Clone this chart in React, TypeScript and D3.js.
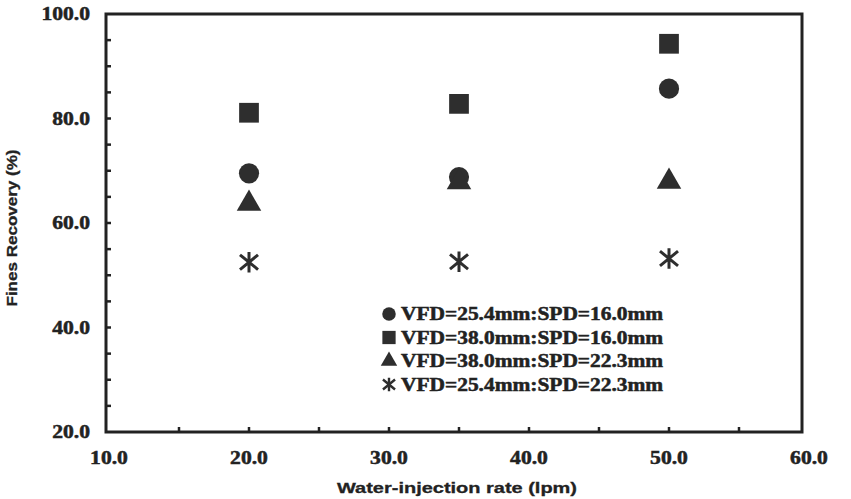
import React from 'react';
import * as d3 from 'd3';

// Water-injection rate (lpm) at which each condition was measured
const injectionRates = [20, 35, 50];

// Fines recovery (%) for each vortex-finder / spigot diameter combination
const recoveryVfd254Spd160 = [69.5, 68.8, 85.7];
const recoveryVfd380Spd160 = [81.1, 82.8, 94.3];
const recoveryVfd380Spd223 = [63.7, 67.8, 67.9];
const recoveryVfd254Spd223 = [52.5, 52.6, 53.2];

const seriesLabels = [
  'VFD=25.4mm:SPD=16.0mm',
  'VFD=38.0mm:SPD=16.0mm',
  'VFD=38.0mm:SPD=22.3mm',
  'VFD=25.4mm:SPD=22.3mm',
];

const xTickLabels = [10, 20, 30, 40, 50, 60];
const yTickLabels = [20, 40, 60, 80, 100];

const xTitle = 'Water-injection rate (lpm)';
const yTitle = 'Fines Recovery (%)';

const W = 851;
const H = 499;
const ink = '#222';
const markFill = '#2e2e2e';

// six-armed star: a vertical bar crossed by two diagonals
const symbolStar = {
  draw(ctx: any, size: number) {
    const r = Math.sqrt(size) / 2;
    const dx = r * 0.88;
    const dy = r * 0.72;
    ctx.moveTo(0, -r);
    ctx.lineTo(0, r);
    ctx.moveTo(-dx, -dy);
    ctx.lineTo(dx, dy);
    ctx.moveTo(-dx, dy);
    ctx.lineTo(dx, -dy);
  },
};

type Kind = 'circle' | 'square' | 'triangle' | 'star';

const seriesKinds: Kind[] = ['circle', 'square', 'triangle', 'star'];
const seriesValues = [
  recoveryVfd254Spd160,
  recoveryVfd380Spd160,
  recoveryVfd380Spd223,
  recoveryVfd254Spd223,
];

function markPath(kind: Kind, scale: number) {
  if (kind === 'circle') return d3.symbol(d3.symbolCircle, 320 * scale)()!;
  if (kind === 'square') return d3.symbol(d3.symbolSquare, 390 * scale)()!;
  if (kind === 'triangle') return d3.symbol(d3.symbolTriangle, 260 * scale)()!;
  return d3.symbol(symbolStar as any, 420 * scale)()!;
}

function Mark({ kind, x, y, scale = 1 }: { kind: Kind; x: number; y: number; scale?: number }) {
  const d = markPath(kind, scale);
  if (kind === 'star') {
    return (
      <path
        d={d}
        transform={`translate(${x},${y})`}
        fill="none"
        stroke={markFill}
        strokeWidth={scale < 1 ? 2.4 : 3}
      />
    );
  }
  return <path d={d} transform={`translate(${x},${y})`} fill={markFill} />;
}

export default function App() {
  // plot frame
  const left = 106;
  const right = 802;
  const top = 14;
  const bottom = 432;

  const x = d3.scaleLinear().domain([10, 60]).range([109, 809]);
  const y = d3.scaleLinear().domain([20, 100]).range([bottom, top]);

  const xMinor = x.ticks(10).filter((v) => v > 10 && v < 60);
  const yMinor = y.ticks(16).filter((v) => v > 20 && v < 100);

  const serif = '"Liberation Serif", "Times New Roman", serif';
  const sans = '"Liberation Sans", Arial, sans-serif';

  const legendX = 389;
  const legendY0 = 314;
  const legendStep = 23.5;

  const labelStyle = {
    fontFamily: serif,
    fontWeight: 'bold' as const,
    fontSize: 18,
    fill: ink,
    stroke: ink,
    strokeWidth: 0.5,
  };

  return (
    <svg
      width={W}
      height={H}
      viewBox={`0 0 ${W} ${H}`}
      style={{ position: 'absolute', left: 0, top: 0, background: '#fff' }}
    >
      <rect x={0} y={0} width={W} height={H} fill="#fff" />

      {/* frame */}
      <rect
        x={left}
        y={top}
        width={right - left}
        height={bottom - top}
        fill="none"
        stroke={ink}
        strokeWidth={3}
      />

      {/* y ticks (inside) */}
      {yMinor.map((v) => (
        <line key={`yt${v}`} x1={left - 1} x2={left + 5} y1={y(v)} y2={y(v)} stroke={ink} strokeWidth={2.5} />
      ))}
      {/* x ticks (inside) */}
      {xMinor.map((v) => (
        <line key={`xt${v}`} x1={x(v)} x2={x(v)} y1={bottom} y2={bottom - 5} stroke={ink} strokeWidth={2.5} />
      ))}

      {/* y tick labels */}
      {yTickLabels.map((v) => (
        <text
          key={`yl${v}`}
          transform={`translate(90,${y(v) + 6}) scale(1.2,1)`}
          textAnchor="end"
          style={labelStyle}
        >
          {v.toFixed(1)}
        </text>
      ))}

      {/* x tick labels */}
      {xTickLabels.map((v) => (
        <text
          key={`xl${v}`}
          transform={`translate(${x(v)},464) scale(1.2,1)`}
          textAnchor="middle"
          style={labelStyle}
        >
          {v.toFixed(1)}
        </text>
      ))}

      {/* axis titles */}
      <text
        x={457}
        y={493}
        textAnchor="middle"
        fontFamily={sans}
        fontWeight="bold"
        fontSize={15}
        textLength={240}
        lengthAdjust="spacingAndGlyphs"
        fill={ink}
        stroke={ink}
        strokeWidth={0.3}
      >
        {xTitle}
      </text>
      <text
        transform="translate(17,228) rotate(-90)"
        textAnchor="middle"
        fontFamily={sans}
        fontWeight="bold"
        fontSize={14}
        textLength={157}
        lengthAdjust="spacingAndGlyphs"
        fill={ink}
        stroke={ink}
        strokeWidth={0.3}
      >
        {yTitle}
      </text>

      {/* data marks */}
      {seriesValues.map((vals, si) =>
        vals.map((v, i) => (
          <Mark key={`m${si}-${i}`} kind={seriesKinds[si]} x={x(injectionRates[i])} y={y(v)} />
        ))
      )}

      {/* legend */}
      {seriesLabels.map((label, i) => (
        <g key={`lg${i}`}>
          <Mark kind={seriesKinds[i]} x={legendX} y={legendY0 + i * legendStep} scale={0.45} />
          <text
            transform={`translate(${legendX + 12},${legendY0 + i * legendStep + 6}) scale(1.19,1)`}
            style={labelStyle}
          >
            {label}
          </text>
        </g>
      ))}
    </svg>
  );
}
